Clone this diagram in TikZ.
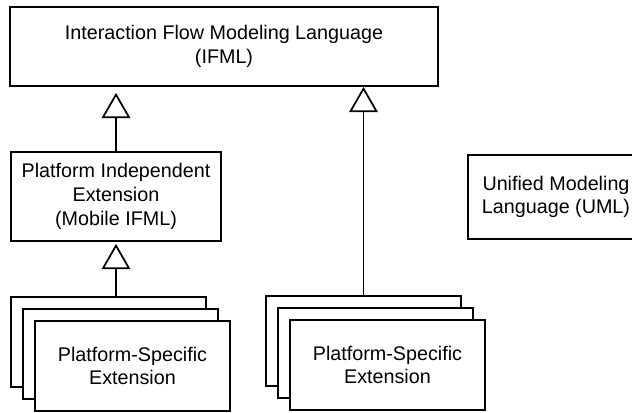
\documentclass[tikz,border=0pt]{standalone}
\usepackage{fontspec}
\setmainfont{Liberation Sans}
\usepackage{tikz}
\usetikzlibrary{arrows.meta}
\usetikzlibrary{shadows}

\begin{document}
\begin{tikzpicture}[x=0.75pt, y=-0.75pt,
    box/.style={draw, fill=white, line width=1.3pt, align=center, inner sep=0pt,
      font=\fontsize{14.8}{17.8}\selectfont,
      drop shadow={opacity=0.2, shadow xshift=0.8pt, shadow yshift=-0.8pt}},
    extbox/.style={box, minimum width=146.25pt, minimum height=67.5pt},
    gen/.style={-{Triangle[open, length=19pt, width=21.5pt]}, line width=1.3pt}]
  \clip (0, 0) rectangle (632, 412);
  % languages
  \node[box, minimum width=321pt, minimum height=59.25pt] (ifml) at (224, 46.5)
    {Interaction Flow Modeling Language\\(IFML)};
  \node[box, minimum width=157.5pt, minimum height=66.75pt] (pie) at (116, 196.5)
    {Platform Independent\\Extension\\(Mobile IFML)};
  \node[box, minimum width=132pt, minimum height=63pt] (uml) at (556, 197)
    {Unified Modeling\\Language (UML)};
  % left stack of platform-specific extensions
  \node[extbox] (lps1) at (108.5, 342) {};
  \node[extbox] (lps2) at (120.5, 354) {};
  \node[extbox] (lps3) at (132.5, 366) {Platform-Specific\\Extension};
  % right stack
  \node[extbox] (rps1) at (363.5, 341) {};
  \node[extbox] (rps2) at (375.5, 353) {};
  \node[extbox] (rps3) at (387.5, 365) {Platform-Specific\\Extension};
  % generalisations
  \draw[gen] (pie.north) -- ([yshift=-4.5pt]ifml.south -| pie.north);
  \draw[gen] (lps1.north -| pie.south) -- ([yshift=-1.5pt]pie.south);
  \draw[gen] (rps1.north) -- (rps1.north |- ifml.south);
\end{tikzpicture}
\end{document}
